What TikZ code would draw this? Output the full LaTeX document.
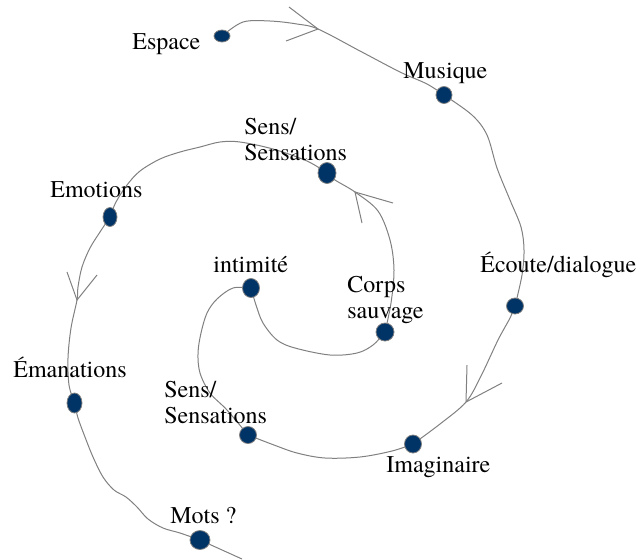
\documentclass[tikz,border=0pt]{standalone}
\usepackage{fontspec}
\setmainfont{texgyretermes}[Extension=.otf,UprightFont=*-regular,BoldFont=*-bold,ItalicFont=*-italic,BoldItalicFont=*-bolditalic]
\usetikzlibrary{shapes.geometric,backgrounds}
\definecolor{dotblue}{RGB}{0,51,102}
\definecolor{linegrey}{RGB}{128,128,128}
\tikzset{
  dot/.style={ellipse,fill=dotblue,draw=linegrey,line width=0.4pt,inner sep=0pt},
  lbl/.style={anchor=base west,inner sep=0pt,align=left,font=\rmfamily\fontsize{12}{13}\selectfont},
  curve/.style={draw=linegrey,line width=0.5pt},
  chevron/.style={draw=linegrey,line width=0.5pt,line join=miter}
}
\begin{document}
\begin{tikzpicture}[x=0.5pt,y=-0.5pt]
\useasboundingbox (0,0) rectangle (642,559);
% dots
\node[dot,minimum width=8pt,minimum height=6pt] (espace) at (222,36) {};
\node[dot,minimum width=8pt,minimum height=8.5pt] (musique) at (444,95) {};
\node[dot,minimum width=8.5pt,minimum height=8pt] (ecoute) at (515,306) {};
\node[dot,minimum width=8.5pt,minimum height=9pt] (imag) at (413,444) {};
\node[dot,minimum width=8.5pt,minimum height=8.5pt] (senslow) at (248,435) {};
\node[dot,minimum width=8.5pt,minimum height=9.5pt] (intim) at (251,288) {};
\node[dot,minimum width=9pt,minimum height=9pt] (corps) at (385,332) {};
\node[dot,minimum width=9pt,minimum height=10.5pt] (sensup) at (327,173) {};
\node[dot,minimum width=7pt,minimum height=9.5pt] (emot) at (110,217) {};
\node[dot,minimum width=7.5pt,minimum height=10pt] (eman) at (74.5,403) {};
\node[dot,minimum width=10pt,minimum height=9.5pt] (mots) at (200,540) {};
\coordinate (fin) at (242,559);
% labels (base = baseline of last line)
\node[lbl] (lespace) at (132,49) {Espace};
\node[lbl] (lmusique) at (403,78) {Musique};
\node[lbl] (lecoute) at (480,272) {Écoute/dialogue};
\node[lbl] (lcorps) at (347,318) {Corps\\sauvage};
\node[lbl] (lintim) at (213,272) {intimité};
\node[lbl] (lsensup) at (244,160) {Sens/\\Sensations};
\node[lbl] (lemot) at (50,197) {Emotions};
\node[lbl] (leman) at (13,377) {Émanations};
\node[lbl] (lsenslow) at (164,423) {Sens/\\Sensations};
\node[lbl] (lmots) at (170,523) {Mots ?};
\node[lbl] (limag) at (386,472) {Imaginaire};
% spiral
\begin{pgfonlayer}{background}
\draw[curve] plot[smooth,tension=0.55] coordinates {(espace) (243,22) (270,21) (297,24) (318,29) (360,51) (400,72) (427,84) (musique)};
\draw[curve] plot[smooth,tension=0.55] coordinates {(musique) (472,115) (487,135) (497,168) (510,200) (521,227) (524,250) (522,275) (ecoute)};
\draw[curve] plot[smooth,tension=0.55] coordinates {(ecoute) (510,318) (498,340) (481,376) (466,402) (440,424) (imag)};
\draw[curve] plot[smooth,tension=0.55] coordinates {(imag) (392,451) (360,457) (325,458) (297,453) (274,445) (senslow)};
\draw[curve] plot[smooth,tension=0.55] coordinates {(senslow) (227,410) (210,393) (200,373) (198,353) (201,333) (207,313) (217,299) (233,288) (intim)};
\draw[curve] plot[smooth,tension=0.55] coordinates {(intim) (256,305) (263,323) (277,340) (295,348) (330,355) (357,353) (373,345) (corps)};
\draw[curve] plot[smooth,tension=0.55] coordinates {(corps) (391,303) (394,270) (390,240) (378,211) (355,192) (335,180) (sensup)};
\draw[curve] plot[smooth,tension=0.55] coordinates {(sensup) (307,161) (273,149) (240,142) (220,142) (200,147) (180,152) (160,159) (140,171) (127,185) (116,202) (emot)};
\draw[curve] plot[smooth,tension=0.55] coordinates {(emot) (100,232) (90,248) (82,267) (78,287) (77,300) (71,328) (68,358) (69,385) (eman)};
\draw[curve] plot[smooth,tension=0.55] coordinates {(eman) (78,418) (85,437) (93,457) (103,477) (114,490) (126,497) (137,507) (148,519) (163,528) (180,533) (mots)};
\draw[curve] (mots) -- (fin);
\end{pgfonlayer}
% arrowheads (open chevrons)
\draw[chevron] (289,7) -- (318,29) -- (286,41);
\draw[chevron] (67,272) -- (77,300) -- (97,275);
\draw[chevron] (467,365) -- (466,402) -- (502,383);
\draw[chevron] (362,223) -- (355,192) -- (393,203);
\end{tikzpicture}
\end{document}
